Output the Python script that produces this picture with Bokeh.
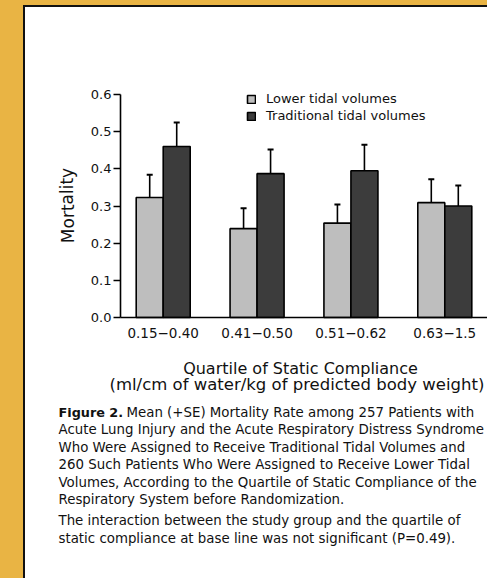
from bokeh.plotting import figure
from bokeh.models import (Range1d, FixedTicker, Whisker, TeeHead, ColumnDataSource,
                          Label, Legend, LegendItem)
from bokeh.embed import file_html
from bokeh.resources import INLINE

# ---------------- data ----------------
quartiles = ["0.15\u22120.40", "0.41\u22120.50", "0.51\u22120.62", "0.63\u22121.5"]
lower_mean = [0.323, 0.239, 0.254, 0.309]
lower_se = [0.061, 0.055, 0.050, 0.063]
trad_mean = [0.460, 0.387, 0.395, 0.300]
trad_se = [0.065, 0.065, 0.070, 0.055]
y_ticks = [0.0, 0.1, 0.2, 0.3, 0.4, 0.5, 0.6]
series_names = ["Lower tidal volumes", "Traditional tidal volumes"]

x_title = ["Quartile of Static Compliance",
           "(ml/cm of water/kg of predicted body weight)"]
y_title = "Mortality"
caption_bold = "Figure 2."
caption_lines = [
    "Mean (+SE) Mortality Rate among 257 Patients with",
    "Acute Lung Injury and the Acute Respiratory Distress Syndrome",
    "Who Were Assigned to Receive Traditional Tidal Volumes and",
    "260 Such Patients Who Were Assigned to Receive Lower Tidal",
    "Volumes, According to the Quartile of Static Compliance of the",
    "Respiratory System before Randomization.",
]
note_lines = [
    "The interaction between the study group and the quartile of",
    "static compliance at base line was not significant (P=0.49).",
]

# ---------------- layout constants ----------------
W, H = 487, 578
FL, FR, FT, FB = 120, 487, 94, 317      # chart area in canvas pixels
X0, X1 = -0.455, 3.455                  # data range of the chart area
Y0, Y1 = 0.0, 0.6
FONT = "DejaVu Sans"
LIGHT = "#BEBEBE"
DARK = "#3C3C3C"
GOLD = "#E9B444"
INK = "#111111"


def px_x(v):
    return X0 + (v - FL) / (FR - FL) * (X1 - X0)


def px_y(v):
    return Y0 + (FB - v) / (FB - FT) * (Y1 - Y0)


bar_w = 0.2877
idx = list(range(len(quartiles)))
lower_x = [i - bar_w / 2 for i in idx]
trad_x = [i + bar_w / 2 for i in idx]

bg = ("linear-gradient(to bottom, {g} 0px, {g} 5px, transparent 5px), "
      "linear-gradient(to right, {g} 0px, {g} 23px, #111 23px, #111 25px, transparent 25px), "
      "linear-gradient(to bottom, {g} 0px, {g} 5px, #111 5px, #111 7px, #ffffff 7px)").format(g=GOLD)

p = figure(width=W, height=H,
           x_range=Range1d(px_x(0), px_x(W)), y_range=Range1d(px_y(H), px_y(0)),
           output_backend="svg", toolbar_location=None,
           min_border_left=0, min_border_right=0, min_border_top=0, min_border_bottom=0,
           styles={"background": bg})
p.border_fill_color = None
p.background_fill_color = None
p.outline_line_color = None
p.xgrid.visible = False
p.ygrid.visible = False

src_l = ColumnDataSource(dict(x=lower_x, top=lower_mean,
                              up=[m + s for m, s in zip(lower_mean, lower_se)]))
src_t = ColumnDataSource(dict(x=trad_x, top=trad_mean,
                              up=[m + s for m, s in zip(trad_mean, trad_se)]))

r_l = p.vbar(x="x", top="top", width=bar_w, source=src_l, fill_color=LIGHT,
             line_color="black", line_width=1.6)
r_t = p.vbar(x="x", top="top", width=bar_w, source=src_t, fill_color=DARK,
             line_color="black", line_width=1.6)

for s in (src_l, src_t):
    p.add_layout(Whisker(source=s, base="x", lower="top", upper="up",
                         dimension="height", line_color="black", line_width=1.6,
                         upper_head=TeeHead(size=6, line_width=2, line_color="black"),
                         lower_head=None))

# axes, pinned to the chart area
p.yaxis.fixed_location = X0
p.yaxis.bounds = (Y0, Y1)
p.yaxis.ticker = FixedTicker(ticks=y_ticks)
p.yaxis.major_label_overrides = {t: "%.1f" % t for t in y_ticks}
p.yaxis.major_tick_out = 7
p.yaxis.major_tick_in = 0
p.yaxis.minor_tick_line_color = None
p.yaxis.major_label_standoff = 2
p.xaxis.fixed_location = Y0
p.xaxis.bounds = (X0, X1)
p.xaxis.ticker = FixedTicker(ticks=idx)
p.xaxis.major_label_overrides = {i: q for i, q in zip(idx, quartiles)}
p.xaxis.major_tick_line_color = None
p.xaxis.minor_tick_line_color = None
p.xaxis.major_label_standoff = 4
for ax in (p.xaxis, p.yaxis):
    ax.axis_line_width = 1.6
    ax.axis_line_color = "black"
    ax.major_tick_line_width = 1.6
    ax.major_label_text_font = FONT
    ax.major_label_text_color = INK
p.yaxis.major_label_text_font_size = "13px"
p.xaxis.major_label_text_font_size = "13.5px"

# legend
legend = Legend(items=[LegendItem(label=series_names[0], renderers=[r_l]),
                       LegendItem(label=series_names[1], renderers=[r_t])],
                location=(246, H - 124), padding=0, margin=0, spacing=0,
                glyph_width=10, glyph_height=10, label_height=17,
                label_standoff=10, border_line_color=None,
                background_fill_alpha=0,
                label_text_font=FONT, label_text_font_size="13px",
                label_text_color=INK)
p.add_layout(legend, "center")


def put(text, x, y, size, align="left", bold=False, angle=0.0):
    p.add_layout(Label(x=px_x(x), y=px_y(y), text=text, angle=angle,
                       text_align=align, text_baseline="middle", text_font=FONT,
                       text_font_style="bold" if bold else "normal",
                       text_font_size=size, text_color=INK))


# axis titles
put(y_title, 67, 205, "17px", align="center", angle=1.5708)
put(x_title[0], 300, 368, "16px", align="center")
put(x_title[1], 109, 384, "16.5px", align="left")

# caption
cap_y = [412, 429.3, 446.7, 464, 481.5, 498.5]
put(caption_bold, 58, cap_y[0], "12.8px", bold=True)
for i, (t, yy) in enumerate(zip(caption_lines, cap_y)):
    put(t, 126 if i == 0 else 58, yy, "13.35px")
for t, yy in zip(note_lines, [520, 538]):
    put(t, 58, yy, "13.35px")

open("out.html", "w").write(file_html(p, INLINE))
